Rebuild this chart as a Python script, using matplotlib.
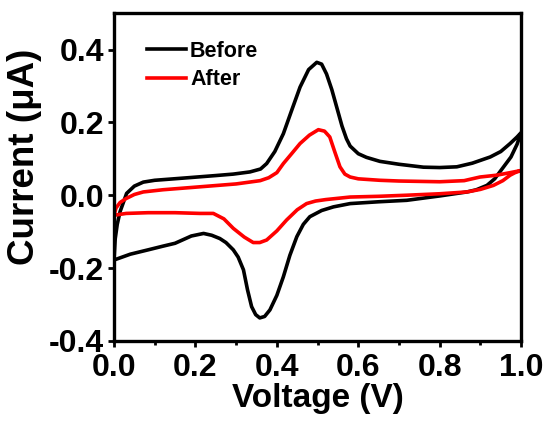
import numpy as np
import matplotlib
matplotlib.use('Agg')
import matplotlib.pyplot as plt
from matplotlib.ticker import MultipleLocator, FormatStrFormatter

# Before: forward sweep then reverse sweep
before_fwd_x = [0.0, 0.003, 0.008, 0.015, 0.031, 0.05, 0.072, 0.1, 0.17, 0.25, 0.293, 0.334, 0.36, 0.375, 0.395,
                0.416, 0.437, 0.457, 0.478, 0.498, 0.51, 0.522, 0.535, 0.547, 0.56, 0.571, 0.58, 0.6, 0.62, 0.653,
                0.7, 0.76, 0.8, 0.842, 0.88, 0.924, 0.95, 0.973, 0.99, 1.0]
before_fwd_y = [-0.178, -0.12, -0.08, -0.045, 0.005, 0.025, 0.036, 0.041, 0.047, 0.054, 0.058, 0.064, 0.072, 0.087,
                0.12, 0.169, 0.235, 0.297, 0.345, 0.365, 0.36, 0.333, 0.29, 0.242, 0.19, 0.155, 0.135, 0.114, 0.104,
                0.093, 0.085, 0.077, 0.076, 0.078, 0.088, 0.105, 0.12, 0.142, 0.16, 0.172]
before_rev_x = [1.0, 0.99, 0.975, 0.957, 0.935, 0.916, 0.89, 0.867, 0.8, 0.719, 0.65, 0.58, 0.539, 0.51, 0.481,
                0.465, 0.449, 0.432, 0.416, 0.4, 0.383, 0.37, 0.358, 0.348, 0.338, 0.328, 0.318, 0.305, 0.293,
                0.275, 0.26, 0.24, 0.22, 0.19, 0.15, 0.12, 0.084, 0.04, 0.0]
before_rev_y = [0.172, 0.14, 0.105, 0.078, 0.045, 0.027, 0.015, 0.009, -0.002, -0.014, -0.018, -0.023, -0.032,
                -0.042, -0.059, -0.08, -0.114, -0.165, -0.224, -0.275, -0.315, -0.333, -0.337, -0.328, -0.306,
                -0.26, -0.205, -0.17, -0.15, -0.13, -0.119, -0.11, -0.105, -0.112, -0.132, -0.14, -0.15, -0.162,
                -0.178]

# After
after_fwd_x = [0.0, 0.005, 0.015, 0.03, 0.05, 0.072, 0.12, 0.21, 0.3, 0.359, 0.38, 0.4, 0.416, 0.437, 0.457, 0.48,
               0.502, 0.517, 0.53, 0.542, 0.555, 0.567, 0.58, 0.6, 0.653, 0.7, 0.8, 0.86, 0.899, 0.94, 0.973, 1.0]
after_fwd_y = [-0.055, -0.035, -0.02, -0.009, 0.002, 0.009, 0.015, 0.023, 0.031, 0.04, 0.048, 0.062, 0.087, 0.115,
               0.142, 0.165, 0.18, 0.176, 0.16, 0.12, 0.078, 0.058, 0.05, 0.045, 0.041, 0.039, 0.037, 0.04, 0.05,
               0.055, 0.062, 0.068]
after_rev_x = [1.0, 0.985, 0.973, 0.955, 0.932, 0.9, 0.867, 0.8, 0.719, 0.65, 0.58, 0.52, 0.495, 0.473, 0.45,
               0.424, 0.4, 0.375, 0.358, 0.342, 0.32, 0.293, 0.27, 0.244, 0.211, 0.15, 0.084, 0.03, 0.0]
after_rev_y = [0.068, 0.062, 0.055, 0.04, 0.027, 0.016, 0.009, 0.004, 0.0, -0.003, -0.005, -0.012, -0.016, -0.023,
               -0.04, -0.068, -0.098, -0.123, -0.13, -0.13, -0.115, -0.091, -0.065, -0.05, -0.05, -0.048, -0.048,
               -0.05, -0.055]

plt.rcParams['font.family'] = ['Liberation Sans', 'DejaVu Sans']
plt.rcParams['font.weight'] = 'bold'

fig = plt.figure(figsize=(5.48, 4.25), dpi=100)
ax = fig.add_axes([0.208, 0.198, 0.743, 0.771])

ax.plot(before_fwd_x + before_rev_x, before_fwd_y + before_rev_y, color='black', lw=2.6, label='Before')
ax.plot(after_fwd_x + after_rev_x, after_fwd_y + after_rev_y, color='#ff0000', lw=2.6, label='After')

ax.set_xlim(0, 1.0)
ax.set_ylim(-0.4, 0.5)
ax.xaxis.set_major_locator(MultipleLocator(0.2))
ax.xaxis.set_minor_locator(MultipleLocator(0.1))
ax.yaxis.set_major_locator(MultipleLocator(0.2))
ax.xaxis.set_major_formatter(FormatStrFormatter('%.1f'))
ax.yaxis.set_major_formatter(FormatStrFormatter('%.1f'))
ax.tick_params(which='major', direction='out', length=4, width=2, labelsize=23, pad=3)
ax.tick_params(axis='x', which='major', pad=5)
ax.tick_params(which='minor', direction='out', length=3, width=2)
for s in ax.spines.values():
    s.set_linewidth(2.4)

ax.set_xlabel('Voltage (V)', fontsize=24, fontweight='bold', labelpad=0)
ax.set_ylabel('Current (\u03bcA)', fontsize=26.5, fontweight='bold')
ax.yaxis.set_label_coords(-0.177, 0.561)

leg = ax.legend(loc='upper left', bbox_to_anchor=(0.081, 0.916), frameon=False, fontsize=15.5,
                handlelength=1.8, handletextpad=0.2, labelspacing=0.35, borderpad=0, borderaxespad=0)
for t in leg.get_texts():
    t.set_fontweight('bold')

plt.savefig('out.png', dpi=100)
